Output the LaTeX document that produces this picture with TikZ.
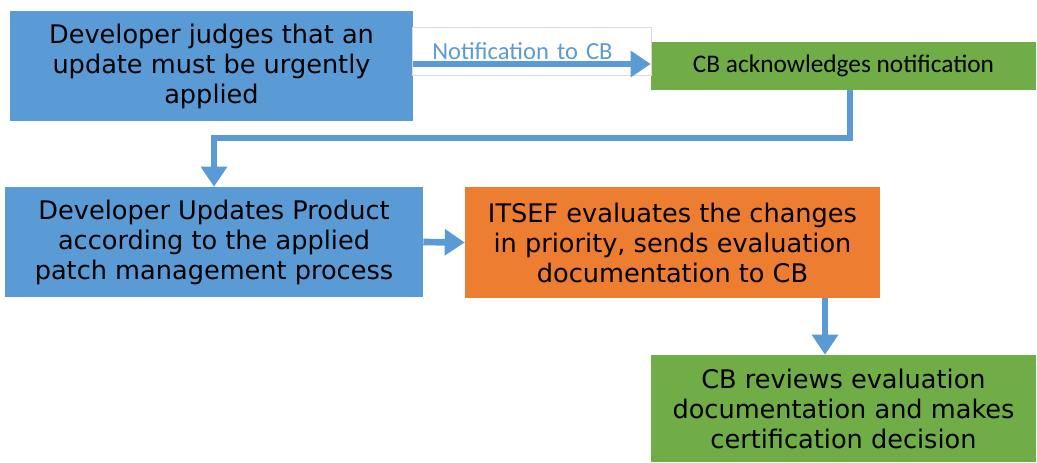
\documentclass[tikz,border=0pt]{standalone}
\usepackage{fontspec}
\setmainfont{DejaVu Sans}
\newfontfamily\labelfont{Carlito}
\usetikzlibrary{positioning}
\usetikzlibrary{arrows.meta}
\definecolor{stepblue}{HTML}{5B9BD5}
\definecolor{steporange}{HTML}{ED7D31}
\definecolor{stepgreen}{HTML}{70AD47}

\begin{document}
\begin{tikzpicture}[x=0.75pt,y=-0.75pt,
                bigbox/.style={inner sep=0pt,align=center,
                  font=\fontsize{19.2}{22.5}\selectfont},
                flow/.style={stepblue,line width=5pt,
                  -{Triangle[width=19pt,length=15pt]}}]
             \useasboundingbox (0,0) rectangle (1037,462);
             % boxes
             \node[bigbox,fill=stepblue,minimum width=403*0.75pt,minimum height=110*0.75pt] (judge) at (211.5,66)
                {Developer judges that an\\update must be urgently\\applied};
             \node[fill=stepgreen,inner sep=0pt,minimum width=385*0.75pt,minimum height=48*0.75pt,
                   font=\labelfont\fontsize{19}{22}\selectfont] (ack) at (843.5,66)
                {CB acknowledges notification};
             \node[bigbox,fill=stepblue,minimum width=418*0.75pt,minimum height=110*0.75pt] (update) at (214,242)
                {Developer Updates Product\\according to the applied\\patch management process};
             \node[bigbox,fill=steporange,minimum width=415*0.75pt,minimum height=111*0.75pt] (itsef) at (672.5,242.5)
                {ITSEF evaluates the changes\\in priority, sends evaluation\\documentation to CB};
             \node[bigbox,fill=stepgreen,minimum width=385*0.75pt,minimum height=107*0.75pt] (review) at (843.5,408.5)
                {CB reviews evaluation\\documentation and makes\\certification decision};
             % label of the first arrow
             \node[draw=black!15,anchor=north west,inner xsep=15pt,inner ysep=0pt,
                   text width=149pt,minimum height=48*0.75pt,align=left,
                   text=stepblue,font=\labelfont\fontsize{18.4}{20}\selectfont] (notice) at (412,27)
                {\raisebox{-1pt}{Notification to CB}};
             % arrows
             \coordinate (bend) at (850,138);
             \coordinate (drop) at (825,0);
             \draw[flow] (judge.east |- 0,64) -- (ack.west |- 0,64);
             \draw[flow] (ack.south -| bend) |- (update.north |- bend) -- (update.north);
             \draw[flow] (update.east) -- (itsef.west);
             \draw[flow] (itsef.south -| drop) -- (review.north -| drop);
\end{tikzpicture}
\end{document}
